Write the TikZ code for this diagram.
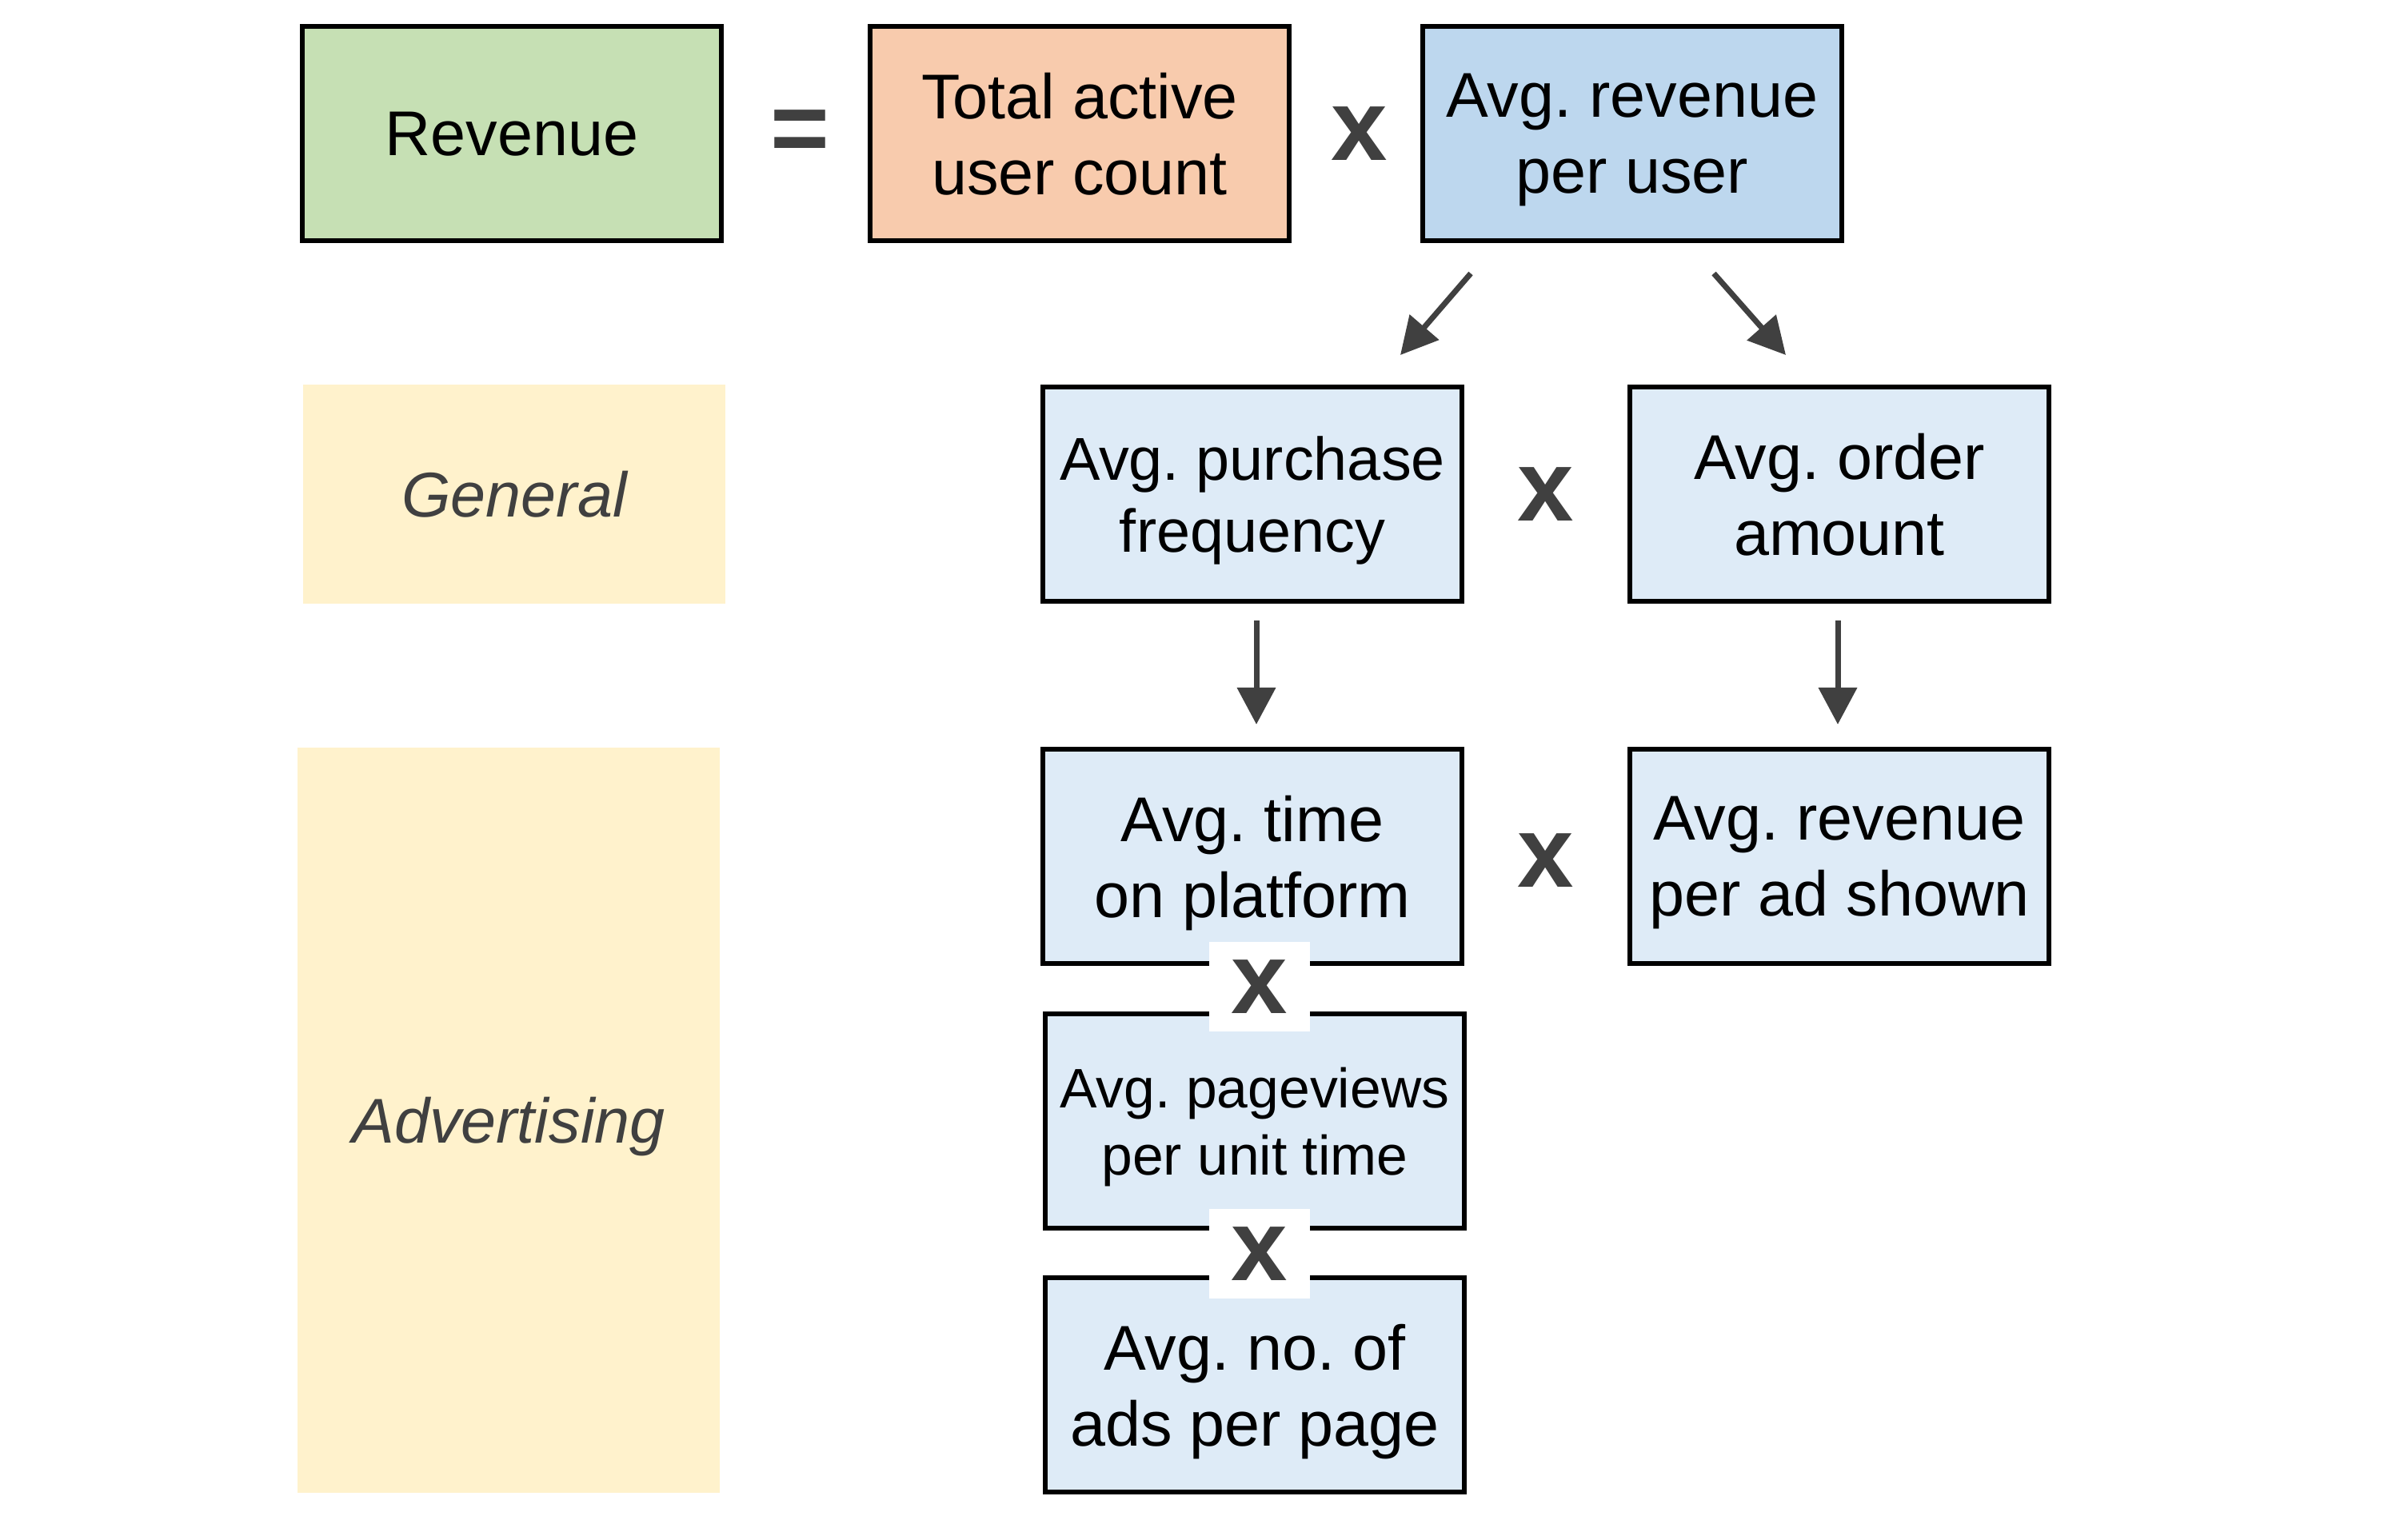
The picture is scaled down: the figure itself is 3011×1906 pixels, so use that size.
\documentclass[tikz,border=0pt]{standalone}
\usepackage{fontspec}
\setmainfont{Liberation Sans}
\usetikzlibrary{arrows.meta}
\definecolor{cGreen}{HTML}{C6E0B4}
\definecolor{cPeach}{HTML}{F8CBAD}
\definecolor{cBlue}{HTML}{BDD7EE}
\definecolor{cLight}{HTML}{DEEBF7}
\definecolor{cYellow}{HTML}{FFF2CC}
\definecolor{cDark}{HTML}{404040}
\tikzset{
 box/.style={draw=black, line width=0.06cm, minimum width=5.24cm, minimum height=2.68cm,
   inner sep=0pt, outer sep=0pt, align=center, text=black, text depth=0pt,
   font=\fontsize{22.5}{27}\selectfont\frenchspacing},
 midbox/.style={box, font=\fontsize{21.5}{25.8}\selectfont\frenchspacing},
 smallbox/.style={box, font=\fontsize{19.8}{24}\selectfont\frenchspacing},
 cat/.style={inner sep=0pt, outer sep=0pt, fill=cYellow, text=cDark, text depth=0pt,
   font=\fontsize{22.5}{27}\selectfont\itshape},
 op/.style={inner sep=0pt, text=cDark, font=\fontsize{36}{36}\selectfont\bfseries},
 opbox/.style={op, fill=white, minimum width=1.26cm, minimum height=1.11cm},
 arr/.style={draw=cDark, line width=0.07cm, -{Triangle[length=0.46cm,width=0.47cm]}},
}
\begin{document}
\frenchspacing
\begin{tikzpicture}[x=0.01cm,y=-0.01cm]
\useasboundingbox (0,0) rectangle (3011,1906);
% row 1
\node[box, fill=cGreen] (rev) at (640,167) {Revenue};
\node[op] (eq) at (1000,171) {=};
\node[box, fill=cPeach] (tau) at (1350,167) {Total active\\user count};
\node[op] (x1) at (1700,167) {x};
\node[box, fill=cBlue] (arpu) at (2041,167) {Avg. revenue\\per user};
% categories
\node[cat, minimum width=5.27cm, minimum height=2.73cm] (gen) at (643,618) {General};
\node[cat, minimum width=5.27cm, minimum height=9.32cm] (adv) at (636,1401) {Advertising};
% row 2
\node[midbox, fill=cLight] (pf) at (1566,618) {Avg. purchase\\frequency};
\node[op] (x2) at (1933,618) {x};
\node[box, fill=cLight] (oa) at (2300,618) {Avg. order\\amount};
% row 3
\node[box, fill=cLight] (time) at (1566,1071) {Avg. time\\on platform};
\node[op] (x3) at (1933,1076) {x};
\node[box, fill=cLight] (rad) at (2300,1071) {Avg. revenue\\per ad shown};
\node[smallbox, fill=cLight] (pv) at (1569,1402) {Avg. pageviews\\per unit time};
\node[box, fill=cLight] (ads) at (1569,1732) {Avg. no. of\\ads per page};
\node[opbox] (x4) at (1575,1234) {x};
\node[opbox] (x5) at (1575,1568) {x};
% arrows
\coordinate (a1s) at (1839,342);
\coordinate (a1e) at (1751,444);
\coordinate (a2s) at (2143,342);
\coordinate (a2e) at (2233,444);
\coordinate (a3s) at (1571,776);
\coordinate (a3e) at (1571,906);
\coordinate (a4s) at (2298,776);
\coordinate (a4e) at (2298,906);
\draw[arr] (a1s) -- (a1e);
\draw[arr] (a2s) -- (a2e);
\draw[arr] (a3s) -- (a3e);
\draw[arr] (a4s) -- (a4e);
\end{tikzpicture}
\end{document}
